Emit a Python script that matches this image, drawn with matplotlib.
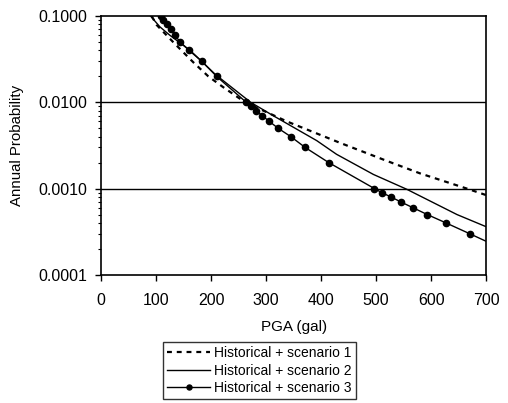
import matplotlib.pyplot as plt
from matplotlib.ticker import FixedLocator, LogLocator, NullFormatter

# Scenario 1 (dotted)
pga_s1 = [92, 101, 131, 168, 195, 222, 262, 338, 434, 519, 580, 665, 710]
prob_s1 = [0.1, 0.079, 0.05, 0.029, 0.020, 0.015, 0.010, 0.0060, 0.0034,
           0.0021, 0.00150, 0.0010, 0.00080]

# Scenario 2 (solid)
pga_s2 = [90, 107, 125, 162, 208, 272, 313, 392, 428, 495, 556, 647, 710]
prob_s2 = [0.1, 0.075, 0.060, 0.040, 0.021, 0.010, 0.0070, 0.0036, 0.0025,
           0.00146, 0.00098, 0.00050, 0.00034]

# Scenario 3 (solid with markers)
pga_s3 = [108, 113, 120, 127, 134, 144, 160, 183, 210, 264, 273, 282, 293,
          306, 322, 345, 371, 414, 497, 510, 527, 545, 567, 593, 627, 670, 730]
prob_s3 = [0.1, 0.09, 0.08, 0.07, 0.06, 0.05, 0.04, 0.03, 0.02, 0.01, 0.009,
           0.008, 0.007, 0.006, 0.005, 0.004, 0.003, 0.002, 0.001, 0.0009,
           0.0008, 0.0007, 0.0006, 0.0005, 0.0004, 0.0003, 0.0002]

x_ticks = [0, 100, 200, 300, 400, 500, 600, 700]
y_ticks = [0.0001, 0.001, 0.01, 0.1]
y_labels = ["0.0001", "0.0010", "0.0100", "0.1000"]

plt.rcParams["font.family"] = ["Liberation Sans", "DejaVu Sans"]
plt.rcParams["font.size"] = 10

fig = plt.figure(figsize=(5.08, 4.03), dpi=100)
ax = fig.add_axes([0.199, 0.318, 0.758, 0.642])

ax.plot(pga_s1, prob_s1, color="black", lw=1.6, linestyle=(0, (2.2, 2.2)),
        label="Historical + scenario 1")
ax.plot(pga_s2, prob_s2, color="black", lw=1.0,
        label="Historical + scenario 2")
ax.plot(pga_s3, prob_s3, color="black", lw=1.0, marker="o", markersize=4.5,
        label="Historical + scenario 3")

ax.set_yscale("log")
ax.set_xlim(0, 700)
ax.set_ylim(0.0001, 0.1)
ax.xaxis.set_major_locator(FixedLocator(x_ticks))
ax.set_yticks(y_ticks)
ax.set_yticklabels(y_labels)
ax.yaxis.set_minor_locator(LogLocator(base=10, subs=range(2, 10)))
ax.yaxis.set_minor_formatter(NullFormatter())
ax.tick_params(axis="both", which="major", direction="out", length=4,
               width=1, color="black", labelsize=11.5)
ax.tick_params(axis="x", which="major", pad=9)
ax.tick_params(axis="y", which="major", pad=6)
ax.tick_params(axis="y", which="minor", direction="out", length=2, width=0.8)
ax.tick_params(axis="x", which="minor", bottom=False)

for v in [0.01, 0.001]:
    ax.axhline(v, color="black", lw=1.0)

for sp in ax.spines.values():
    sp.set_linewidth(1.2)
    sp.set_color("black")

ax.set_xlabel("PGA (gal)", fontsize=11, labelpad=9)
ax.set_ylabel("Annual Probability", fontsize=10.8, labelpad=10)

leg = fig.legend(loc="upper center", bbox_to_anchor=(0.511, 0.151),
                 frameon=True, fancybox=False, edgecolor="black",
                 handlelength=3.1, handletextpad=0.3, borderpad=0.3,
                 labelspacing=0.25, fontsize=10, borderaxespad=0,
                 markerscale=0.8)
leg.get_frame().set_linewidth(1.0)

fig.savefig("out.png", dpi=100)
